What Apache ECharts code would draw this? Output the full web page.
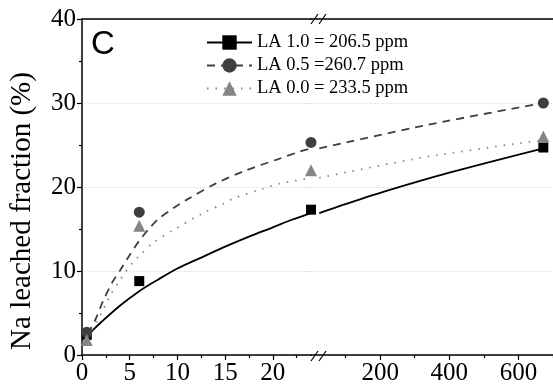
<!DOCTYPE html>
<html>
<head>
<meta charset="utf-8">
<script src="https://cdn.jsdelivr.net/npm/echarts@6/dist/echarts.min.js"></script>
<style>
html,body{margin:0;padding:0;background:#fff;}
#chart{width:553px;height:390px;}
</style>
</head>
<body>
<div id="chart"></div>
<script>
// ---- data ----
const seriesNames = ['LA 1.0 = 206.5 ppm', 'LA 0.5 =260.7 ppm', 'LA 0.0 = 233.5 ppm'];
const times = [0.5, 6, 24, 672];                 // h
const la10 = [2.4, 8.8, 17.3, 24.7];
const la05 = [2.7, 17.0, 25.3, 30.0];
const la00 = [1.8, 15.4, 22.0, 26.0];
// fitted curves: [time, value]
const fit10 = [[0.6,2.3],[1,2.8],[2,3.9],[4,5.9],[6,7.6],[8,9.0],[10,10.3],[12.5,11.6],[15,12.9],[17.5,14.1],[20,15.2],[22,16.1],[24,16.9],[80,17.7],[200,19.3],[400,21.7],[672,24.6]];
const fit05 = [[0.6,2.5],[1.4,4.2],[2.2,6.4],[3.2,8.7],[4,10.1],[5,11.9],[6,13.6],[7,15.0],[8,16.2],[9.6,17.5],[11,18.5],[14,20.4],[17,21.9],[20.5,23.3],[22.8,24.2],[24,24.6],[337,27.4],[672,30.0]];
const fit00 = [[0.6,2.1],[1.5,3.9],[2.1,5.1],[2.6,6.3],[3.1,7.4],[3.8,8.6],[4.5,9.8],[5.4,11.1],[6,11.8],[7.5,13.4],[9.6,14.9],[12.7,16.9],[14.8,18.0],[16,18.7],[19,19.8],[20.7,20.4],[24,21.1],[337,23.6],[672,25.6]];
const yTicks = [0, 10, 20, 30, 40];
const xLeftLabels = [0, 5, 10, 15, 20];
const xLeftMinor = [2.5, 7.5, 12.5, 17.5, 22.5];
const xRightLabels = [200, 400, 600];
const xRightMinor = [100, 300, 500, 700];
const breakAt = 24;

// ---- styles ----
const colors = ['#000000', '#3f3f3f', '#858585'];
const symbols = ['rect', 'circle', 'triangle'];
const symSizes = [10, 11, 12];
const lineStyles = [
  {type: 'solid', width: 1.8},
  {type: [8, 6], width: 1.8},
  {type: [1.5, 7], width: 1.8}
];
const fits = [fit10, fit05, fit00];
const vals = [la10, la05, la00];

const serif = 'Liberation Serif';
const LEFT_MAX = 24.0, RIGHT_MIN = 0, RIGHT_MAX = 700;
const grids = [
  {left: 82, top: 19, width: 229, height: 336},
  {left: 311, top: 19, width: 246.4, height: 336}
];

function xAxisBase(gi, min, max) {
  return {type: 'value', gridIndex: gi, min: min, max: max, splitLine: {show: false}};
}
const xLabel = {color: '#000', fontFamily: serif, fontSize: 25, margin: 6};
const xAxes = [
  Object.assign(xAxisBase(0, 0, LEFT_MAX), {position: 'bottom',
    axisLine: {show: true, lineStyle: {color: '#000', width: 1.5}},
    axisTick: {show: true, length: 5, customValues: xLeftLabels, lineStyle: {color: '#000', width: 1.2}},
    axisLabel: Object.assign({customValues: xLeftLabels}, xLabel)}),
  Object.assign(xAxisBase(1, RIGHT_MIN, RIGHT_MAX), {position: 'bottom',
    axisLine: {show: true, lineStyle: {color: '#000', width: 1.5}},
    axisTick: {show: true, length: 5, customValues: xRightLabels, lineStyle: {color: '#000', width: 1.2}},
    axisLabel: Object.assign({customValues: xRightLabels}, xLabel)}),
  Object.assign(xAxisBase(0, 0, LEFT_MAX), {position: 'bottom',
    axisLine: {show: false}, axisLabel: {show: false},
    axisTick: {show: true, length: 3, customValues: xLeftMinor, lineStyle: {color: '#000', width: 1.2}}}),
  Object.assign(xAxisBase(1, RIGHT_MIN, RIGHT_MAX), {position: 'bottom',
    axisLine: {show: false}, axisLabel: {show: false},
    axisTick: {show: true, length: 3, customValues: xRightMinor, lineStyle: {color: '#000', width: 1.2}}}),
  Object.assign(xAxisBase(0, 0, LEFT_MAX), {position: 'top',
    axisLine: {show: true, lineStyle: {color: '#000', width: 1.5}}, axisTick: {show: false}, axisLabel: {show: false}}),
  Object.assign(xAxisBase(1, RIGHT_MIN, RIGHT_MAX), {position: 'top',
    axisLine: {show: true, lineStyle: {color: '#000', width: 1.5}}, axisTick: {show: false}, axisLabel: {show: false}})
];
const ySplit = {show: true, lineStyle: {color: '#dcdcdc', type: 'dotted', width: 1}};
const yAxes = [
  {type: 'value', gridIndex: 0, min: yTicks[0], max: yTicks[yTicks.length - 1], interval: 10,
    axisLine: {show: true, lineStyle: {color: '#000', width: 1.5}},
    axisTick: {show: true, length: 5, lineStyle: {color: '#000', width: 1.2}},
    minorTick: {show: true, splitNumber: 2, length: 3, lineStyle: {color: '#000', width: 1.2}},
    axisLabel: {color: '#000', fontFamily: serif, fontSize: 25, margin: 6},
    splitLine: ySplit},
  {type: 'value', gridIndex: 1, min: yTicks[0], max: yTicks[yTicks.length - 1], interval: 10,
    axisLine: {show: false}, axisTick: {show: false}, axisLabel: {show: false},
    splitLine: ySplit}
];

const series = [];
// curves first so the legend takes line + symbol from them
for (let i = 0; i < 3; i++) {
  const left = fits[i].filter(p => p[0] <= breakAt);
  const right = fits[i].filter(p => p[0] >= breakAt);
  [[0, left], [1, right]].forEach(([gi, d]) => {
    series.push({
      name: seriesNames[i], type: 'line', xAxisIndex: gi, yAxisIndex: gi,
      data: d, smooth: 0.3, symbol: symbols[i], symbolSize: symSizes[i], showSymbol: false,
      itemStyle: {color: colors[i]},
      lineStyle: Object.assign({color: colors[i]}, lineStyles[i]),
      clip: false, silent: true, z: 2
    });
  });
}
for (let i = 0; i < 3; i++) {
  const left = [], right = [];
  times.forEach((t, k) => { (t <= breakAt ? left : right).push([t, vals[i][k]]); });
  [[0, left], [1, right]].forEach(([gi, d]) => {
    series.push({
      name: seriesNames[i], type: 'scatter', xAxisIndex: gi, yAxisIndex: gi,
      data: d, symbol: symbols[i], symbolSize: symSizes[i],
      itemStyle: {color: colors[i], opacity: 1}, clip: false, z: 3 + i
    });
  });
}

function slash(x, y) {
  return {type: 'line', shape: {x1: x, y1: y + 5, x2: x + 7, y2: y - 5},
    style: {stroke: '#000', lineWidth: 1.2}, z: 100};
}

const option = {
  animation: false,
  backgroundColor: '#fff',
  grid: grids,
  xAxis: xAxes,
  yAxis: yAxes,
  legend: {
    data: seriesNames, orient: 'vertical', left: 206, top: 33, padding: 0,
    itemWidth: 45, itemHeight: 18, itemGap: 4,
    textStyle: {color: '#000', fontFamily: serif, fontSize: 18.5}
  },
  series: series,
  graphic: [
    {type: 'text', x: 22, y: 211, rotation: Math.PI / 2,
      style: {text: 'Na leached fraction (%)', fill: '#000', font: '29px "Liberation Serif"',
        align: 'center', verticalAlign: 'middle'}},
    {type: 'text', x: 91, y: 28,
      style: {text: 'C', fill: '#000', font: '33px "Liberation Sans"'}},
    slash(311, 356), slash(319, 356),
    slash(311, 19), slash(319, 19)
  ]
};
const chart = echarts.init(document.getElementById('chart'), null, {renderer: 'canvas'});
chart.setOption(option);
</script>
</body>
</html>
